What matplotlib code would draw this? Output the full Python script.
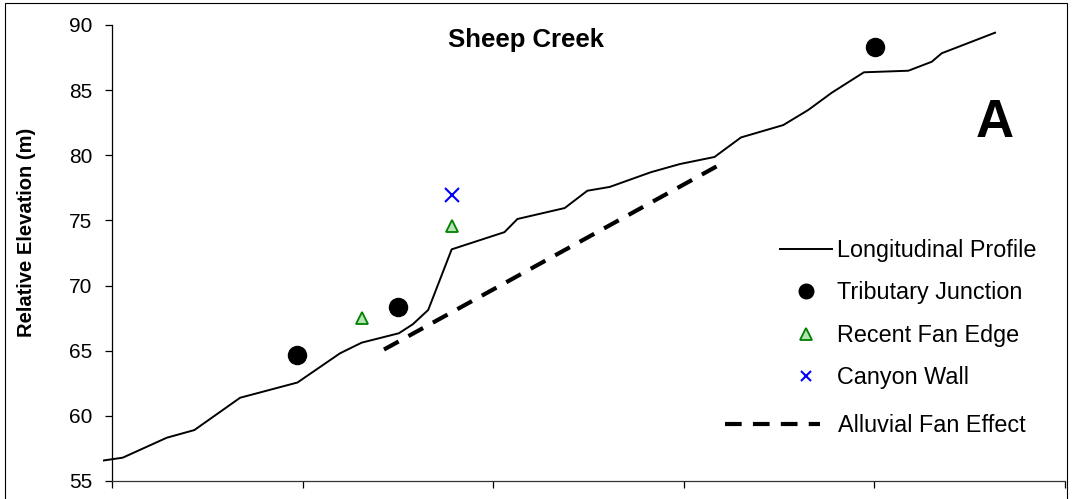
import matplotlib
matplotlib.use("Agg")
import matplotlib.pyplot as plt
from matplotlib.patches import Rectangle

plt.rcParams['font.family'] = ['Liberation Sans', 'DejaVu Sans']

# ---- data (distance along channel, relative elevation m) ----
profile_x = [-47, 56, 287, 432, 672, 973, 1196, 1310, 1505, 1578, 1659, 1782,
             2059, 2127, 2375, 2494, 2611, 2827, 2980, 3161, 3300, 3522, 3653,
             3776, 3945, 4178, 4301, 4353, 4633]
profile_y = [56.57, 56.79, 58.32, 58.91, 61.39, 62.56, 64.80, 65.62, 66.34, 67.03,
             68.13, 72.78, 74.10, 75.11, 75.95, 77.28, 77.57, 78.70, 79.33, 79.87,
             81.37, 82.32, 83.48, 84.80, 86.37, 86.49, 87.18, 87.83, 89.41]

trib_x = [969, 1502, 4003]
trib_y = [64.67, 68.38, 88.29]

fan_x = [1310, 1782]
fan_y = [67.53, 74.60]

canyon_x = [1782]
canyon_y = [76.95]

alluvial_x = [1427, 3190]
alluvial_y = [65.09, 79.29]

x_ticks = [0, 1000, 2000, 3000, 4000, 5000]
y_ticks = [55, 60, 65, 70, 75, 80, 85, 90]

W, H = 1072, 499
fig = plt.figure(figsize=(W / 100, H / 100), dpi=100)
ax = fig.add_axes([102.5 / W, 18 / H, 962.5 / W, 456 / H])
ax.set_xlim(-50, 5000)
ax.set_ylim(55, 90)

ax.plot(profile_x, profile_y, color='black', lw=1.4, label='Longitudinal Profile',
        zorder=3)
ax.plot(trib_x, trib_y, 'o', color='black', ms=13, label='Tributary Junction', zorder=4)
ax.plot(fan_x, fan_y, '^', mfc='#b4e3b4', mec='#008000', mew=1.3, ms=8.5,
        label='Recent Fan Edge', zorder=4)
ax.plot(canyon_x, canyon_y, 'x', color='#0000ff', mew=1.5, ms=9.5,
        label='Canyon Wall', zorder=4)
dash_line, = ax.plot(alluvial_x, alluvial_y, color='black', lw=3,
                     dashes=(4.0, 2.7), dash_capstyle='butt',
                     label='Alluvial Fan Effect', zorder=3)

for s in ['top', 'right']:
    ax.spines[s].set_visible(False)
ax.spines['left'].set_position(('data', 0))
ax.spines['bottom'].set_bounds(0, 5000)
ax.spines['left'].set_linewidth(0.9)
ax.spines['bottom'].set_linewidth(0.9)
ax.spines['bottom'].set_color('#333333')

ax.set_xticks(x_ticks)
ax.set_xticklabels([])
ax.set_yticks(y_ticks)
ax.tick_params(axis='both', direction='out', length=5, width=0.9, labelsize=15)
ax.tick_params(axis='y', pad=9)

fig.text(27 / W, 1 - 232 / H, 'Relative Elevation (m)', rotation=90,
         ha='center', va='center', fontsize=14.5, fontweight='bold')
fig.text(526 / W, 1 - 46.7 / H, 'Sheep Creek', ha='center', va='baseline',
         fontsize=18.5, fontweight='bold')
fig.text(995 / W, 1 - 136.7 / H, 'A', ha='center', va='baseline',
         fontsize=38, fontweight='bold')

handles, labels = ax.get_legend_handles_labels()
leg1 = fig.legend(handles[:4], labels[:4], loc='center left',
                  bbox_to_anchor=(780 / W, 1 - 314 / H), frameon=False,
                  fontsize=16.8, handlelength=2.23, handletextpad=0.21,
                  labelspacing=0.83, borderpad=0, borderaxespad=0)
lh = leg1.legend_handles
lh[1].set_markersize(10.5)
lh[2].set_markersize(8.5)
lh[3].set_markersize(7.5)
leg2 = fig.legend(handles[4:], labels[4:], loc='center left',
                  bbox_to_anchor=(725 / W, 1 - 426 / H), frameon=False,
                  fontsize=16.8, handlelength=4.08, handletextpad=0.77,
                  borderpad=0, borderaxespad=0)

fig.patches.append(Rectangle((5 / W, -0.05), 1062 / W, 1.05 - 3 / H,
                             transform=fig.transFigure, fill=False,
                             edgecolor='black', lw=0.8))

fig.savefig('out.png', dpi=100)
